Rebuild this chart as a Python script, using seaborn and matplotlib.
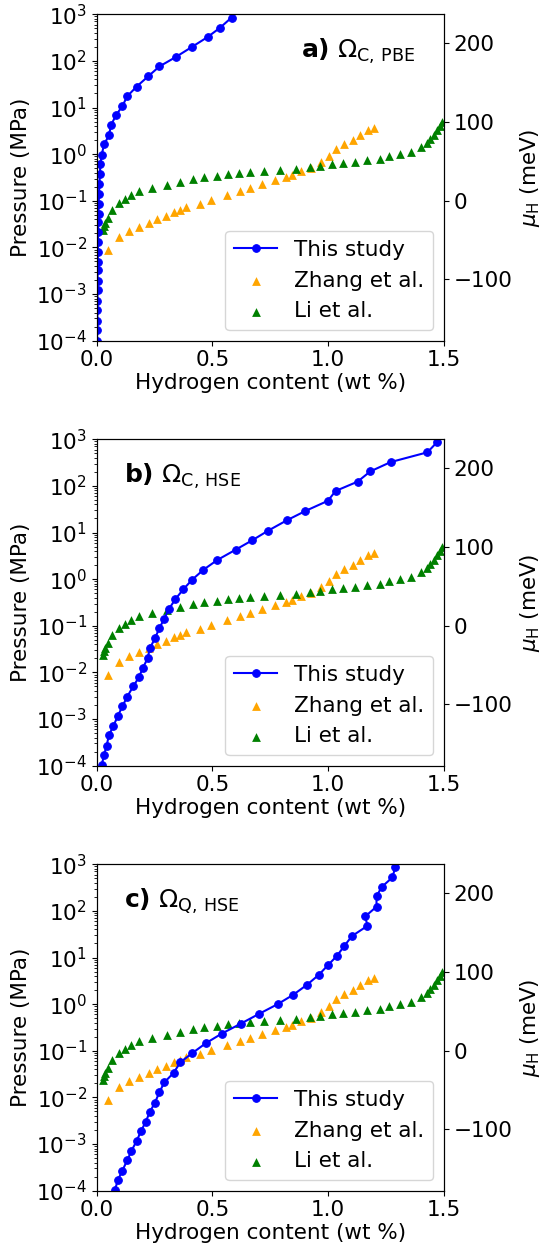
import numpy as np
import matplotlib
matplotlib.use('Agg')
import matplotlib.pyplot as plt
import seaborn as sns

# --- literature data (same in every panel) ---
zhang_x = [0.050, 0.096, 0.140, 0.183, 0.225, 0.262, 0.298, 0.334, 0.360, 0.386,
           0.446, 0.494, 0.564, 0.619, 0.662, 0.715, 0.772, 0.820, 0.845, 0.884,
           0.926, 0.969, 1.002, 1.034, 1.070, 1.107, 1.137, 1.172, 1.198]
zhang_logp = [-2.05, -1.78, -1.64, -1.57, -1.47, -1.39, -1.32, -1.25, -1.20, -1.14,
              -1.06, -0.98, -0.87, -0.78, -0.72, -0.64, -0.55, -0.49, -0.45, -0.37,
              -0.29, -0.16, -0.03, 0.10, 0.21, 0.30, 0.41, 0.51, 0.56]

li_x = [0.026, 0.032, 0.037, 0.048, 0.066, 0.095, 0.122, 0.150, 0.184, 0.238,
        0.305, 0.361, 0.416, 0.464, 0.520, 0.567, 0.616, 0.664, 0.723, 0.793,
        0.859, 0.920, 0.964, 1.016, 1.064, 1.118, 1.169, 1.222, 1.262, 1.311,
        1.359, 1.399, 1.428, 1.442, 1.457, 1.471, 1.483, 1.494]
li_logp = [-1.62, -1.55, -1.47, -1.37, -1.20, -1.05, -0.96, -0.87, -0.79, -0.72,
           -0.66, -0.59, -0.53, -0.50, -0.46, -0.43, -0.41, -0.39, -0.36, -0.33,
           -0.31, -0.28, -0.25, -0.22, -0.20, -0.16, -0.13, -0.10, -0.04, 0.00,
           0.05, 0.15, 0.23, 0.32, 0.41, 0.52, 0.61, 0.68]

# --- this study ---
a_x = [0.002, 0.002, 0.003, 0.003, 0.003, 0.004, 0.004, 0.004, 0.005, 0.005,
       0.006, 0.006, 0.007, 0.008, 0.009, 0.010, 0.012, 0.014, 0.016, 0.022,
       0.032, 0.053, 0.062, 0.083, 0.111, 0.132, 0.173, 0.223, 0.271, 0.341,
       0.412, 0.479, 0.533, 0.583]
a_logp = [-4.00, -3.78, -3.57, -3.35, -3.14, -2.92, -2.71, -2.49, -2.31, -2.10,
          -1.89, -1.67, -1.46, -1.28, -1.06, -0.85, -0.63, -0.42, -0.22, -0.01,
          0.21, 0.40, 0.62, 0.83, 1.03, 1.24, 1.45, 1.67, 1.88, 2.08,
          2.30, 2.51, 2.71, 2.93]

b_x = [0.022, 0.032, 0.043, 0.053, 0.072, 0.092, 0.111, 0.132, 0.158, 0.183,
       0.199, 0.220, 0.230, 0.252, 0.271, 0.292, 0.311, 0.340, 0.374, 0.413,
       0.461, 0.521, 0.600, 0.671, 0.741, 0.821, 0.901, 0.999, 1.032, 1.127,
       1.182, 1.270, 1.429, 1.471]
b_logp = [-3.98, -3.77, -3.57, -3.35, -3.15, -2.93, -2.73, -2.52, -2.30, -2.10,
          -1.91, -1.70, -1.48, -1.27, -1.05, -0.85, -0.65, -0.43, -0.22, -0.01,
          0.20, 0.41, 0.63, 0.83, 1.04, 1.26, 1.46, 1.68, 1.89, 2.09,
          2.31, 2.51, 2.72, 2.94]

c_x = [0.079, 0.092, 0.111, 0.132, 0.150, 0.173, 0.191, 0.212, 0.230, 0.252,
       0.271, 0.292, 0.333, 0.361, 0.413, 0.471, 0.541, 0.622, 0.701, 0.782,
       0.849, 0.910, 0.960, 1.000, 1.039, 1.070, 1.103, 1.170, 1.160, 1.209,
       1.209, 1.231, 1.278, 1.290]
c_logp = [-3.98, -3.77, -3.57, -3.35, -3.15, -2.93, -2.73, -2.52, -2.31, -2.11,
          -1.89, -1.68, -1.47, -1.25, -1.05, -0.84, -0.63, -0.42, -0.21, 0.00,
          0.20, 0.42, 0.63, 0.84, 1.04, 1.25, 1.46, 1.68, 1.88, 2.09,
          2.31, 2.51, 2.72, 2.94]

panels = [
    (a_x, a_logp, r'$\mathbf{a)}\ \Omega_{\mathrm{C,\,PBE}}$', 'right'),
    (b_x, b_logp, r'$\mathbf{b)}\ \Omega_{\mathrm{C,\,HSE}}$', 'left'),
    (c_x, c_logp, r'$\mathbf{c)}\ \Omega_{\mathrm{Q,\,HSE}}$', 'left'),
]

mu_lim = (-178, 237)   # right axis range in meV
fs = 15.5

fig, axes = plt.subplots(3, 1, figsize=(5.4, 12.49), dpi=100)
fig.subplots_adjust(left=0.179, right=0.822, top=0.9886, bottom=0.0467, hspace=0.302)

for ax, (px, plogp, tag, side) in zip(axes, panels):
    sns.lineplot(x=px, y=10 ** np.array(plogp), ax=ax, color='blue', marker='o',
                 markersize=5.5, markeredgecolor='blue', sort=False, estimator=None,
                 label='This study')
    sns.scatterplot(x=zhang_x, y=10 ** np.array(zhang_logp), ax=ax, color='orange',
                    marker='^', s=40, linewidth=0, label='Zhang et al.')
    sns.scatterplot(x=li_x, y=10 ** np.array(li_logp), ax=ax, color='green',
                    marker='^', s=40, linewidth=0, label='Li et al.')
    ax.set_yscale('log')
    ax.set_xlim(0, 1.5)
    ax.set_ylim(1e-4, 1e3)
    ax.set_xticks([0.0, 0.5, 1.0, 1.5])
    ax.tick_params(labelsize=fs)
    ax.set_xlabel('Hydrogen content (wt %)', fontsize=fs, labelpad=2)
    ax.set_ylabel('Pressure (MPa)', fontsize=fs)
    ax.legend(loc='lower right', fontsize=fs)
    if side == 'right':
        ax.text(0.917, 0.868, tag, transform=ax.transAxes, ha='right', va='baseline', fontsize=18)
    else:
        ax.text(0.08, 0.868, tag, transform=ax.transAxes, ha='left', va='baseline', fontsize=18)

    ax2 = ax.twinx()
    ax2.set_ylim(*mu_lim)
    ax2.set_yticks([-100, 0, 100, 200])
    ax2.tick_params(labelsize=fs)
    ax2.set_ylabel(r'$\mu_{\mathrm{H}}$ (meV)', fontsize=fs)

fig.savefig('out.png', dpi=100)
